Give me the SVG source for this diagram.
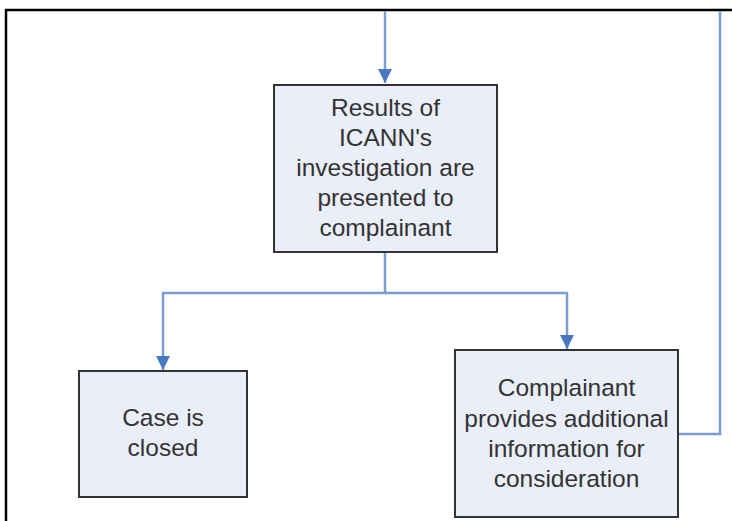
<svg xmlns="http://www.w3.org/2000/svg" width="732" height="521" viewBox="0 0 732 521">
<defs>
<style>
.box{fill:#e9eef8;stroke:#333;stroke-width:2}
.lbl{font-family:"Liberation Sans",Arial,sans-serif;font-size:24.5px;fill:#333;text-anchor:middle}
.con{fill:none;stroke:#7b9dd0;stroke-width:2.5}
.frame{fill:none;stroke:#000;stroke-width:2.5}
</style>
<marker id="ah" markerWidth="14" markerHeight="14" viewBox="0 0 14 14" refX="14" refY="7" orient="auto" markerUnits="userSpaceOnUse">
<path d="M0,0 L14,7 L0,14 Z" fill="#4a78c2"/>
</marker>
</defs>
<rect width="732" height="521" fill="#fff"/>
<path class="frame" d="M6,521 V10 H732"/>
<g id="connectors">
<path class="con" d="M385,11 V83" marker-end="url(#ah)"/>
<path class="con" d="M385,253 V293 H163 V370" marker-end="url(#ah)"/>
<path class="con" d="M385,293 H567 V349" marker-end="url(#ah)"/>
<path class="con" d="M678,434 H720 V11"/>
</g>
<g id="results">
<rect class="box" x="274" y="85" width="223" height="167"/>
<text class="lbl" x="385.5" y="116">Results of</text>
<text class="lbl" x="385.5" y="146">ICANN's</text>
<text class="lbl" x="385.5" y="176">investigation are</text>
<text class="lbl" x="385.5" y="206">presented to</text>
<text class="lbl" x="385.5" y="236">complainant</text>
</g>
<g id="closed">
<rect class="box" x="79" y="371" width="168" height="126"/>
<text class="lbl" x="163" y="426">Case is</text>
<text class="lbl" x="163" y="456">closed</text>
</g>
<g id="additional">
<rect class="box" x="455" y="350" width="223" height="167"/>
<text class="lbl" x="566.5" y="396">Complainant</text>
<text class="lbl" x="566.5" y="427">provides additional</text>
<text class="lbl" x="566.5" y="457">information for</text>
<text class="lbl" x="566.5" y="487">consideration</text>
</g>
</svg>
